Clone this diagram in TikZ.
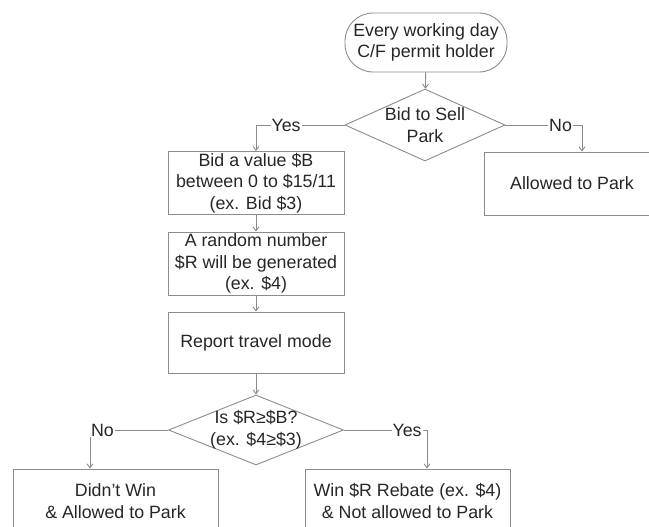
\documentclass[tikz,border=0pt]{standalone}
\usepackage{fontspec}
\setmainfont{Liberation Sans}
\usetikzlibrary{shapes.geometric, arrows.meta, positioning}

\begin{document}
\begin{tikzpicture}[x=1pt, y=-1pt, line width=0.9pt, draw=gray!90,
    every node/.style={font=\fontsize{17.8}{21.5}\selectfont, text=black!85},
    box/.style={shape=rectangle, draw=gray!90, align=center, inner sep=0pt, minimum width=176pt, minimum height=63pt},
    wide/.style={box, minimum width=205pt, minimum height=64pt},
    term/.style={box, rounded corners=28pt, minimum width=162pt, minimum height=59pt},
    choice/.style={shape=diamond, draw=gray!90, inner sep=0pt, node contents={}},
    lbl/.style={fill=white, inner sep=1pt},
    flow/.style={-{Straight Barb[length=4pt, width=6pt]}, gray!90}]
            \useasboundingbox (0,0) rectangle (649,527);
            \draw node (start) at (426, 42.5) [term, font=\fontsize{17.8}{20.5}\selectfont] {Every working day\\C/F permit holder};
            \draw node (sell) at (425, 125) [choice, minimum width=160pt, minimum height=72pt,
                label={[align=center]center:Bid to Sell\\Park}];
            \draw node (bid) at (256, 183) [box] {Bid a value \$B\\between 0 to \$15/11\\(ex. Bid \$3)};
            \draw node (park) at (572, 183.5) [box] {Allowed to Park};
            \draw node (rnd) at (256, 263.5) [box] {A random number\\\$R will be generated\\(ex. \$4)};
            \draw node (mode) at (256, 342.5) [box, minimum height=61pt] {Report travel mode};
            \draw node (win?) at (256, 430) [choice, minimum width=175pt, minimum height=70pt,
                label={[align=center]center:Is \$R≥\$B?\\(ex. \$4≥\$3)}];
            \draw node (lose) at (115.5, 501) [wide] {Didn't Win\\\& Allowed to Park};
            \draw node (rebate) at (407.5, 501) [wide] {Win \$R Rebate (ex. \$4)\\\& Not allowed to Park};
            %Arrows
            \draw[flow] (start) -- (sell);
            \draw[flow] (sell.west) -| node[lbl, pos=0.33] {Yes} (bid.north);
            \draw[flow] (sell.east) -| node[lbl, pos=0.36] {No} ([xshift=10pt]park.north);
            \foreach \a/\b in {bid/rnd, rnd/mode, mode/win?}
                \draw[flow] (\a) -- (\b);
            \draw[flow] (win?.west) -| node[lbl, pos=0.42] {No} ([xshift=-25.5pt]lose.north);
            \draw[flow] (win?.east) -| node[lbl, pos=0.38] {Yes} ([xshift=19.5pt]rebate.north);
\end{tikzpicture}
\end{document}
